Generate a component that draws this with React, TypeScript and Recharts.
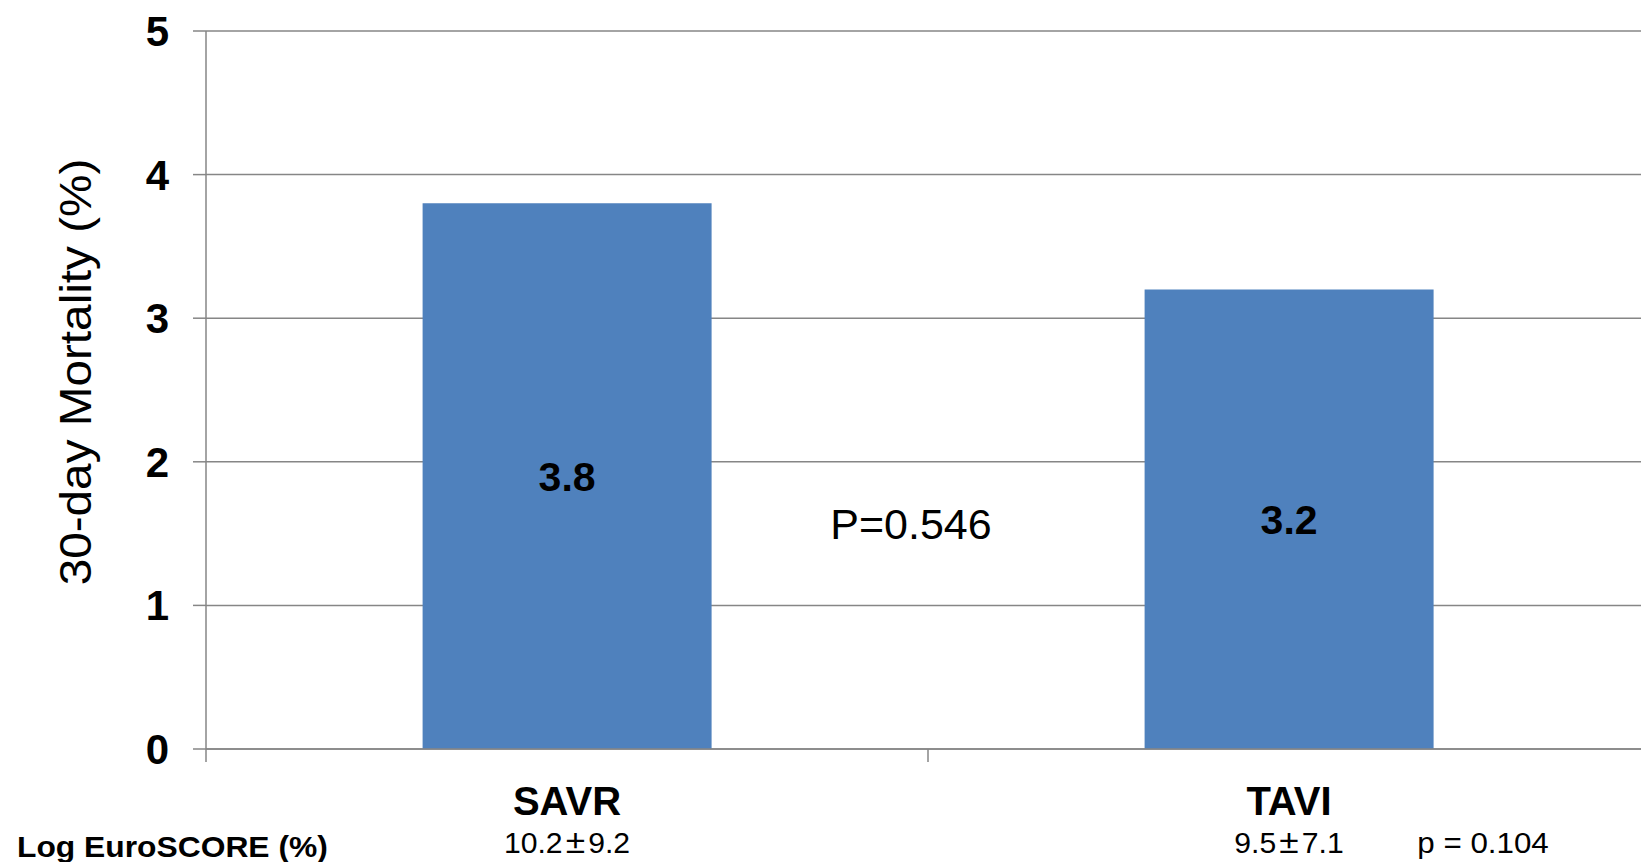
import React from 'react';
import { BarChart, Bar, XAxis, YAxis, CartesianGrid, LabelList } from 'recharts';

const FONT = '"Liberation Sans", Arial, Helvetica, sans-serif';
const GRID = '#868686';
const BAR_FILL = '#4F81BD';

// Chart data
const categories = ['SAVR', 'TAVI'];
const mortality = [3.8, 3.2];
const euroScores = ['10.2±9.2', '9.5±7.1'];
const yTicks = [0, 1, 2, 3, 4, 5];
const yAxisTitle = '30-day Mortality (%)';
const scoreRowTitle = 'Log EuroSCORE (%)';
const scorePValue = 'p = 0.104';
const mortalityPValue = 'P=0.546';

const data = categories.map((name, i) => ({
  name,
  mortality: mortality[i],
  score: euroScores[i],
}));

// Group name, the EuroSCORE row underneath, and tick marks on the group edges
function CategoryTick(props: any) {
  const { x, y, payload } = props;
  const idx = data.findIndex((d) => d.name === payload.value);
  const score = idx >= 0 ? data[idx].score : '';
  const [mean, sd] = score.split('±');
  const isFirst = idx === 0;
  const isLast = idx === data.length - 1;
  const half =
    typeof payload?.offset === 'number' && payload.offset > 0
      ? payload.offset
      : (props.width || 1444) / (props.visibleTicksCount || data.length) / 2;
  return (
    <g>
      <line x1={x - half} x2={x - half} y1={y} y2={y + 13} stroke={GRID} strokeWidth={1.5} />
      {isLast && (
        <line x1={x + half} x2={x + half} y1={y} y2={y + 13} stroke={GRID} strokeWidth={1.5} />
      )}
      <text
        x={x}
        y={y + 66}
        textAnchor="middle"
        fontFamily={FONT}
        fontWeight="bold"
        fontSize={40}
        fill="#000"
      >
        {payload.value}
      </text>
      <text
        transform={`translate(${x}, ${y + 104}) scale(1.04, 1)`}
        textAnchor="middle"
        fontFamily={FONT}
        fontSize={29}
        fill="#000"
      >
        <tspan>{mean}</tspan>
        <tspan dx={3} fontSize={34}>±</tspan>
        <tspan dx={3}>{sd}</tspan>
      </text>
      {isFirst && (
        <text
          transform={`translate(17, ${y + 108}) scale(1.06, 1)`}
          fontFamily={FONT}
          fontWeight="bold"
          fontSize={30}
          fill="#000"
        >
          {scoreRowTitle}
        </text>
      )}
      {isFirst && (
        <text
          x={x + half - 17}
          y={y - 225}
          dy="0.355em"
          textAnchor="middle"
          fontFamily={FONT}
          fontSize={43}
          fill="#000"
        >
          {mortalityPValue}
        </text>
      )}
      {isLast && (
        <text
          transform={`translate(${x + 194}, ${y + 104}) scale(1.08, 1)`}
          textAnchor="middle"
          fontFamily={FONT}
          fontSize={29}
          fill="#000"
        >
          {scorePValue}
        </text>
      )}
    </g>
  );
}

function YAxisTitle(props: any) {
  const vb = props.viewBox || { x: 0, y: 31, width: 206, height: 718 };
  const cx = vb.x + 91;
  const cy = vb.y + vb.height / 2 - 18;
  return (
    <text
      transform={`translate(${cx}, ${cy}) rotate(-90) scale(1.06, 1)`}
      textAnchor="middle"
      fontFamily={FONT}
      fontSize={45}
      fill="#000"
    >
      {yAxisTitle}
    </text>
  );
}

export default function App() {
  return (
    <div
      style={{
        position: 'absolute',
        left: 0,
        top: 0,
        width: 1641,
        height: 862,
        overflow: 'hidden',
        background: '#fff',
      }}
    >
      <BarChart
        width={1700}
        height={862}
        data={data}
        margin={{ top: 31, right: 50, left: 0, bottom: 53 }}
        barCategoryGap="30%"
      >
        <CartesianGrid horizontal vertical={false} stroke={GRID} strokeWidth={1.5} />
        <XAxis
          dataKey="name"
          height={60}
          tickLine={false}
          tickSize={0}
          tickMargin={0}
          axisLine={{ stroke: GRID, strokeWidth: 1.5 }}
          tick={<CategoryTick />}
          interval={0}
        />
        <YAxis
          domain={[0, 5]}
          ticks={yTicks}
          width={206}
          tickSize={13}
          tickMargin={24}
          axisLine={{ stroke: GRID, strokeWidth: 1.5 }}
          tickLine={{ stroke: GRID, strokeWidth: 1.5 }}
          tick={{ fill: '#000', fontSize: 42, fontWeight: 'bold', fontFamily: FONT }}
          label={<YAxisTitle />}
        />
        <Bar dataKey="mortality" fill={BAR_FILL} isAnimationActive={false}>
          <LabelList
            dataKey="mortality"
            position="center"
            fill="#000"
            fontSize={41}
            fontWeight="bold"
            fontFamily={FONT}
          />
        </Bar>
      </BarChart>
    </div>
  );
}
